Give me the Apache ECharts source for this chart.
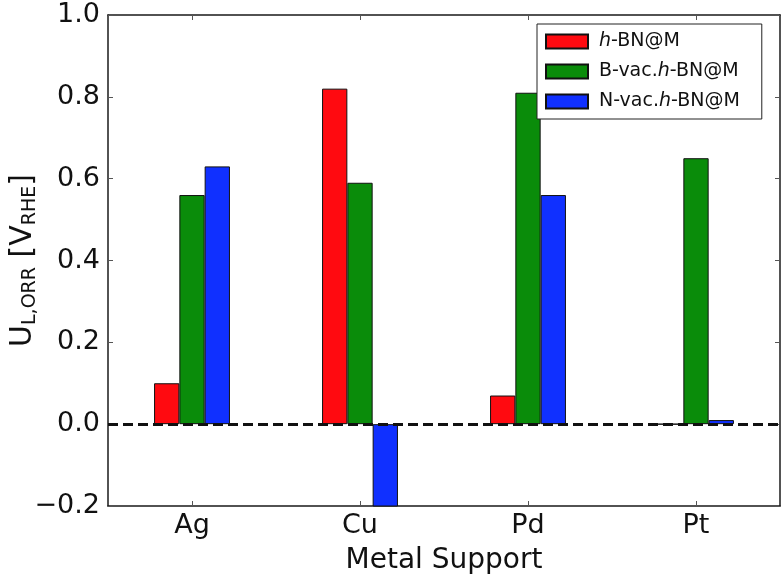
<!DOCTYPE html>
<html>
<head>
<meta charset="utf-8">
<script src="https://cdn.jsdelivr.net/npm/echarts@6/dist/echarts.min.js"></script>
<style>html,body{margin:0;padding:0;background:#fff;}#c{width:784px;height:579px;}</style>
</head>
<body>
<div id="c"></div>
<script>
const categories = ['Ag', 'Cu', 'Pd', 'Pt'];
const seriesNames = ['h-BN@M', 'B-vac.h-BN@M', 'N-vac.h-BN@M'];
const hBN = [0.10, 0.82, 0.07, 0.00];
const bVac = [0.56, 0.59, 0.81, 0.65];
const nVac = [0.63, -0.25, 0.56, 0.01];
const yTicks = [-0.2, 0.0, 0.2, 0.4, 0.6, 0.8, 1.0];

const chart = echarts.init(document.getElementById('c'), null, {renderer: 'canvas'});
const font = 'DejaVu Sans';
const colors = ['#ff0a10', '#0a8c0a', '#1030ff'];
const legendFmt = n => n.replace('h-BN', '{i|h}-BN');

function barSeries(name, data, idx, extra) {
  return Object.assign({
    name: name,
    type: 'bar',
    data: data,
    barWidth: 25.3,
    barGap: '0%',
    clip: true,
    itemStyle: {color: colors[idx], borderColor: '#111', borderWidth: 1},
    emphasis: {disabled: true}
  }, extra || {});
}

chart.setOption({
  animation: false,
  backgroundColor: '#fff',
  textStyle: {fontFamily: font},
  grid: {left: 108, right: 4, top: 15, bottom: 73, containLabel: false, outerBoundsMode: 'none'},
  legend: {
    orient: 'vertical',
    left: 537, top: 24,
    padding: [8, 22, 8, 8],
    itemWidth: 42, itemHeight: 14,
    itemGap: 11,
    icon: 'rect',
    borderColor: '#222', borderWidth: 1,
    backgroundColor: '#fff',
    data: seriesNames,
    formatter: legendFmt,
    textStyle: {
      fontFamily: font, fontSize: 19, color: '#111', padding: [0, 0, 0, 6],
      rich: {i: {fontFamily: font, fontSize: 19, fontStyle: 'italic', color: '#111'}}
    }
  },
  xAxis: [{
    type: 'category',
    data: categories,
    position: 'bottom',
    axisLine: {show: true, onZero: false, lineStyle: {color: '#1a1a1a', width: 1.5}},
    axisTick: {show: true, inside: true, alignWithLabel: true, length: 5, lineStyle: {color: '#555'}},
    axisLabel: {fontFamily: font, fontSize: 27, color: '#111', margin: 6},
    name: 'Metal Support',
    nameLocation: 'middle',
    nameGap: 41,
    nameMoveOverlap: false,
    nameTextStyle: {fontFamily: font, fontSize: 28, color: '#111'}
  }, {
    type: 'category',
    data: categories,
    position: 'top',
    axisLine: {show: true, onZero: false, lineStyle: {color: '#1a1a1a', width: 1.5}},
    axisTick: {show: true, inside: true, alignWithLabel: true, length: 5, lineStyle: {color: '#555'}},
    axisLabel: {show: false}
  }],
  yAxis: [{
    type: 'value',
    min: yTicks[0], max: yTicks[yTicks.length - 1], interval: 0.2,
    position: 'left',
    splitLine: {show: false},
    axisLine: {show: true, onZero: false, lineStyle: {color: '#1a1a1a', width: 1.5}},
    axisTick: {show: true, inside: true, length: 5, lineStyle: {color: '#555'}},
    axisLabel: {
      fontFamily: font, fontSize: 27, color: '#111', margin: 8,
      formatter: v => (Math.abs(v) < 1e-9 ? '0.0' : v.toFixed(1).replace('-', '\u2212'))
    },
    name: '{m|U}{s|L,ORR}{m| [V}{s|RHE}{m|]}',
    nameLocation: 'middle',
    nameGap: 68,
    nameMoveOverlap: false,
    nameTextStyle: {
      fontFamily: font, color: '#111',
      rich: {
        m: {fontFamily: font, fontSize: 30, color: '#111', lineHeight: 32, verticalAlign: 'top'},
        s: {fontFamily: font, fontSize: 19, color: '#111', lineHeight: 26, verticalAlign: 'bottom'}
      }
    }
  }, {
    type: 'value',
    min: yTicks[0], max: yTicks[yTicks.length - 1], interval: 0.2,
    position: 'right',
    splitLine: {show: false},
    axisLine: {show: true, onZero: false, lineStyle: {color: '#1a1a1a', width: 1.5}},
    axisTick: {show: true, inside: true, length: 5, lineStyle: {color: '#555'}},
    axisLabel: {show: false}
  }],
  series: [
    barSeries(seriesNames[0], hBN, 0),
    barSeries(seriesNames[1], bVac, 1),
    barSeries(seriesNames[2], nVac, 2, {
      markLine: {
        silent: true,
        symbol: 'none',
        z: 10,
        label: {show: false},
        lineStyle: {color: '#111', width: 3, type: [10, 5]},
        data: [{yAxis: 0}]
      }
    })
  ]
});
</script>
</body>
</html>
